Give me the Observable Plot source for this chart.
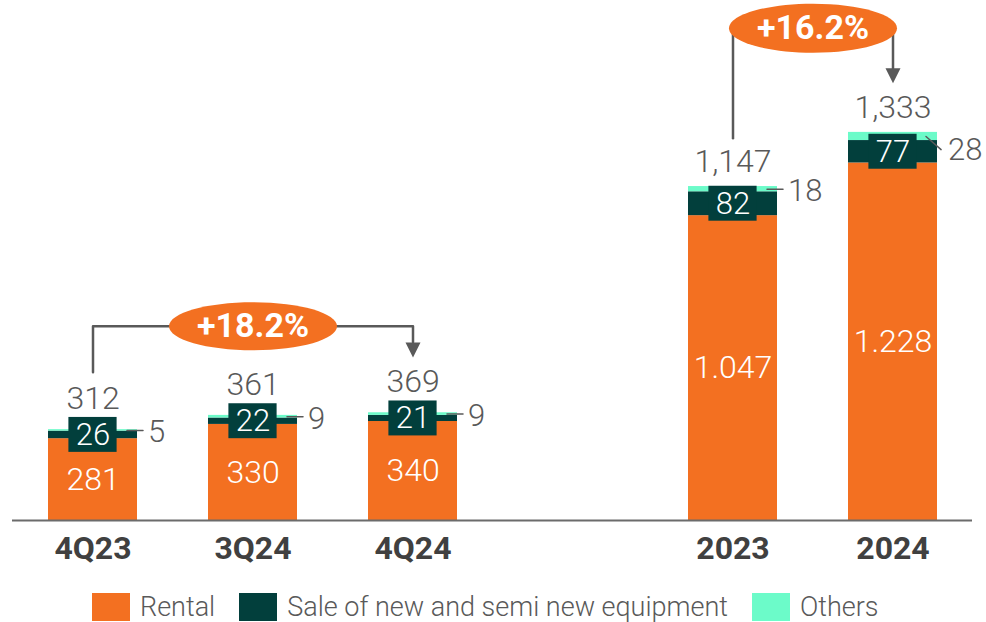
<!DOCTYPE html>
<html>
<head>
<meta charset="utf-8">
<script src="https://cdn.jsdelivr.net/npm/d3@7"></script>
<script src="https://cdn.jsdelivr.net/npm/@observablehq/plot@0.6"></script>
<style>
  body { margin: 0; background: #fff; font-family: Roboto, "DejaVu Sans", sans-serif; }
  #chart svg { display: block; }
  .legend { display: flex; align-items: center; height: 58px; padding-left: 92px; }
  .legend .sw { width: 38px; height: 28px; margin-right: 10px; flex: none; }
  .legend .lb { font-size: 27px; font-weight: 300; color: #595959; margin-right: 24px; white-space: nowrap; }
</style>
</head>
<body>
<div id="chart"></div>
<script>
// ---- data ----
const categories = ["4Q23", "3Q24", "4Q24", "2023", "2024"];
const rental = [281, 330, 340, 1047, 1228];
const sale = [26, 22, 21, 82, 77];
const others = [5, 9, 9, 18, 28];
const totals = [312, 361, 369, 1147, 1333];
const rentalLabels = ["281", "330", "340", "1.047", "1.228"];
const totalLabels = ["312", "361", "369", "1,147", "1,333"];
const seriesNames = ["Rental", "Sale of new and semi new equipment", "Others"];
const growthLabels = ["+18.2%", "+16.2%"];

// ---- styling ----
const seriesColors = ["#F37021", "#023F3C", "#6CFBC9"];
const gray = "#595959";
const xDomain = ["4Q23", "3Q24", "4Q24", "gap", "2023", "2024"];

const rows = categories.map((c, i) => ({
  cat: c, rental: rental[i], sale: sale[i], others: others[i],
  total: totals[i], rentalLabel: rentalLabels[i], totalLabel: totalLabels[i],
  stackTop: rental[i] + sale[i] + others[i]
}));
const long = rows.flatMap(r => [
  {cat: r.cat, series: seriesNames[0], value: r.rental},
  {cat: r.cat, series: seriesNames[1], value: r.sale},
  {cat: r.cat, series: seriesNames[2], value: r.others}
]);

function ellipseSymbol(rx, ry) {
  const k = 0.5522847498;
  return {draw(ctx) {
    ctx.moveTo(rx, 0);
    ctx.bezierCurveTo(rx, ry * k, rx * k, ry, 0, ry);
    ctx.bezierCurveTo(-rx * k, ry, -rx, ry * k, -rx, 0);
    ctx.bezierCurveTo(-rx, -ry * k, -rx * k, -ry, 0, -ry);
    ctx.bezierCurveTo(rx * k, -ry, rx, -ry * k, rx, 0);
    ctx.closePath();
  }};
}
const downTriangle = {draw(ctx) {
  ctx.moveTo(-7.5, -15); ctx.lineTo(7.5, -15); ctx.lineTo(0, 0); ctx.closePath();
}};
const leaderShape = {draw(ctx, l) { ctx.moveTo(0, 0); ctx.lineTo(0, -l); }};

// annotation levels (data units)
const b1 = {bottom: 509, level: 667, headTop: 612, tip: 560};
const b2 = {bottom: 1313, level: 1691, headTop: 1553, tip: 1502};

const small = rows.filter(r => r.total < 500);
const big = rows.filter(r => r.total >= 500);

const chart = Plot.plot({
  width: 986,
  height: 578,
  marginLeft: 12,
  marginRight: 14,
  marginTop: 0,
  marginBottom: 58,
  x: {type: "band", domain: xDomain, paddingInner: 0.445, paddingOuter: 0.2225, axis: null},
  y: {domain: [0, 1786], axis: null},
  color: {domain: seriesNames, range: seriesColors},
  style: {fontFamily: "Roboto, sans-serif", background: "white"},
  marks: [
    Plot.barY(long, {x: "cat", y: "value", fill: "series"}),
    Plot.text(rows, {x: "cat", y: d => d.rental / 2, text: "rentalLabel", fill: "white", fontSize: 32, fontWeight: 300}),
    Plot.barY(rows, {x: "cat", y1: d => d.rental + d.sale / 2 - 60, y2: d => d.rental + d.sale / 2 + 60,
      fill: seriesColors[1], insetLeft: 20.4, insetRight: 20.4}),
    Plot.text(rows, {x: "cat", y: d => d.rental + d.sale / 2, text: d => String(d.sale), fill: "white", fontSize: 31, fontWeight: 300}),
    Plot.text(small, {x: "cat", y: "stackTop", text: "totalLabel", dy: -31, fill: gray, fontSize: 32, fontWeight: 300}),
    Plot.text(big, {x: "cat", y: "stackTop", text: "totalLabel", dy: -25, fill: gray, fontSize: 32, fontWeight: 300}),
    // others leaders + labels
    Plot.vector(rows.filter(r => r.cat !== "2024"), {x: "cat", y: d => d.stackTop - d.others / 2, anchor: "start",
      rotate: 90, length: 16, dx: 34, shape: leaderShape, stroke: gray, strokeWidth: 1.5}),
    Plot.vector(rows.filter(r => r.cat === "2024"), {x: "cat", y: d => d.stackTop - d.others / 2, anchor: "start",
      rotate: 131, length: 20, dx: 33, shape: leaderShape, stroke: gray, strokeWidth: 1.5}),
    Plot.text(rows.filter(r => r.cat !== "2024"), {x: "cat", y: d => d.stackTop - d.others / 2, text: d => String(d.others),
      dx: 55, dy: 2, textAnchor: "start", fill: gray, fontSize: 31, fontWeight: 300}),
    Plot.text(rows.filter(r => r.cat === "2024"), {x: "cat", y: d => d.stackTop - d.others / 2, text: d => String(d.others),
      dx: 55, dy: 14, textAnchor: "start", fill: gray, fontSize: 31, fontWeight: 300}),
    // baseline
    Plot.ruleY([0], {stroke: "#6b6b6b", strokeWidth: 2}),
    // category labels
    Plot.text(categories, {x: d => d, y: 0, dy: 28, text: d => d, fill: "#404040", fontSize: 32, fontWeight: "bold"}),
    // bracket 1
    Plot.line([{x: "4Q23", y: b1.bottom}, {x: "4Q23", y: b1.level}, {x: "4Q24", y: b1.level}, {x: "4Q24", y: b1.headTop}],
      {x: "x", y: "y", stroke: gray, strokeWidth: 2.5}),
    Plot.dot([{x: "4Q24", y: b1.tip}], {x: "x", y: "y", symbol: downTriangle, fill: gray, stroke: "none"}),
    Plot.dot([{x: "3Q24", y: b1.level}], {x: "x", y: "y", symbol: ellipseSymbol(84, 24), fill: seriesColors[0], stroke: "none"}),
    Plot.text([growthLabels[0]], {x: () => "3Q24", y: () => b1.level, text: d => d, fill: "white", fontSize: 34, fontWeight: "bold"}),
    // bracket 2
    Plot.line([{x: "2023", y: b2.bottom}, {x: "2023", y: b2.level}], {x: "x", y: "y", stroke: gray, strokeWidth: 2.5}),
    Plot.line([{x: "2024", y: b2.level}, {x: "2024", y: b2.headTop}], {x: "x", y: "y", stroke: gray, strokeWidth: 2.5}),
    Plot.dot([{x: "2024", y: b2.tip}], {x: "x", y: "y", symbol: downTriangle, fill: gray, stroke: "none"}),
    Plot.dot([{x: "2023", y: b2.level}], {x: "x", y: "y", dx: 80, symbol: ellipseSymbol(84, 24.5), fill: seriesColors[0], stroke: "none"}),
    Plot.text([growthLabels[1]], {x: () => "2023", y: () => b2.level, dx: 80, text: d => d, fill: "white", fontSize: 34, fontWeight: "bold"})
  ]
});
document.getElementById("chart").append(chart);

// legend
const legend = document.createElement("div");
legend.className = "legend";
seriesNames.forEach((name, i) => {
  const sw = document.createElement("span");
  sw.className = "sw";
  sw.style.background = seriesColors[i];
  const lb = document.createElement("span");
  lb.className = "lb";
  lb.textContent = name;
  legend.append(sw, lb);
});
document.getElementById("chart").append(legend);
</script>
</body>
</html>
